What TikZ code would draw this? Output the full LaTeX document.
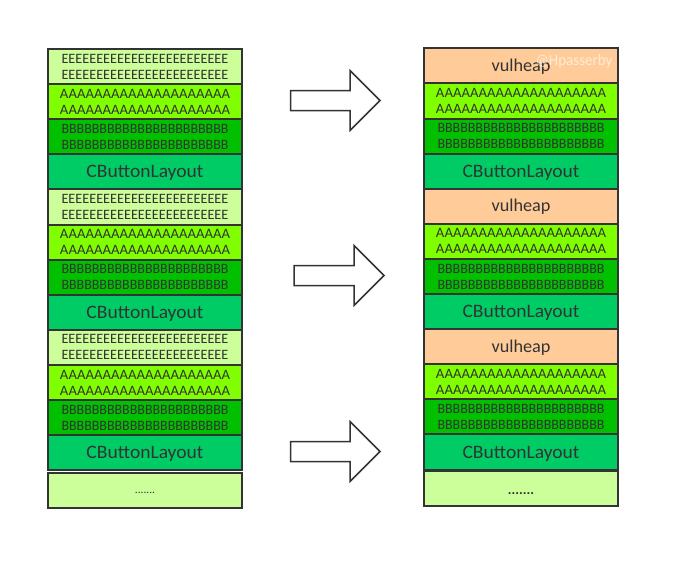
\documentclass[tikz,border=0pt]{standalone}
\usepackage{fontspec}
\setmainfont{Carlito}
\usepackage{graphicx}
\definecolor{bordc}{HTML}{333333}
\definecolor{txtc}{HTML}{333333}
\definecolor{cE}{HTML}{CCFF99}
\definecolor{cA}{HTML}{80FF00}
\definecolor{cB}{HTML}{00C000}
\definecolor{cC}{HTML}{00CC66}
\definecolor{cV}{HTML}{FFCC99}
\newcommand\rowE{\resizebox{167pt}{\height}{EEEEEEEEEEEEEEEEEEEEEEEE}}
\newcommand\rowA{\resizebox{170pt}{\height}{AAAAAAAAAAAAAAAAAAAA}}
\newcommand\rowB{\resizebox{167pt}{\height}{BBBBBBBBBBBBBBBBBBBBBB}}
\newcommand\cbl{\resizebox{117pt}{\height}{CButtonLayout}}
\newcommand\vul{\resizebox{59pt}{\height}{vulheap}}
\tikzset{
  blk/.style={draw=bordc, line width=2pt, minimum width=194pt, minimum height=35.1pt,
    inner sep=0pt, outer sep=0pt, text=txtc, anchor=north, align=center,
    font=\fontsize{14.3}{16}\selectfont},
  cbtxt/.style={font=\fontsize{19}{20}\selectfont, text height=12.2pt, text depth=0pt},
  vtxt/.style={font=\fontsize{18}{20}\selectfont, text height=11pt, text depth=0pt},
  dtxt/.style={text height=0pt, text depth=0pt},
  arr/.style={draw=bordc, line width=1.5pt, fill=white, line join=miter}
}
\begin{document}
\begin{tikzpicture}[x=1pt,y=-1pt]
\useasboundingbox (0,0) rectangle (680,570);
% left column
\foreach \k/\t in {0/1,1/2,2/3} {
  \pgfmathsetmacro\ytop{49+140.4*\k}
  \node[blk,fill=cE] (LE\t) at (145,\ytop) {\rowE\\\rowE};
  \node[blk,fill=cA] (LA\t) at (145,{\ytop+35.1}) {\rowA\\\rowA};
  \node[blk,fill=cB] (LB\t) at (145,{\ytop+70.2}) {\rowB\\\rowB};
  \node[blk,fill=cC,cbtxt] (LC\t) at (145,{\ytop+105.3}) {\cbl};
}
\node[blk,fill=cE,minimum height=35pt,dtxt] (Ldots) at (145,473) {\raisebox{-2.5pt}{\fontsize{11.4}{12}\selectfont .......}};
% right column
\foreach \k/\t in {0/1,1/2,2/3} {
  \pgfmathsetmacro\ytop{48.3+140.4*\k}
  \node[blk,fill=cV,vtxt] (RV\t) at (521,\ytop) {\vul};
  \node[blk,fill=cA] (RA\t) at (521,{\ytop+35.1}) {\rowA\\\rowA};
  \node[blk,fill=cB] (RB\t) at (521,{\ytop+70.2}) {\rowB\\\rowB};
  \node[blk,fill=cC,cbtxt] (RC\t) at (521,{\ytop+105.3}) {\cbl};
}
\node[blk,fill=cE,minimum height=35pt,dtxt] (Rdots) at (521,471) {\raisebox{-6pt}{\fontsize{14}{14}\selectfont\bfseries .......}};
% watermark
\node[text=white, opacity=0.6, font=\fontsize{16}{16}\selectfont] (wm) at (574,61) {\resizebox{77pt}{\height}{@Hpasserby}};
% arrows
\draw[arr] (290.7,90.5) -- (350,90.5) -- (350,70.5) -- (380,100.5) -- (350,130.5) -- (350,110.5) -- (290.7,110.5) -- cycle;
\draw[arr] (294,265.5) -- (354,265.5) -- (354,245.5) -- (384,275.5) -- (354,305.5) -- (354,285.5) -- (294,285.5) -- cycle;
\draw[arr] (290.7,441.5) -- (350,441.5) -- (350,421.5) -- (380,451.5) -- (350,481.5) -- (350,461.5) -- (290.7,461.5) -- cycle;
\end{tikzpicture}
\end{document}
